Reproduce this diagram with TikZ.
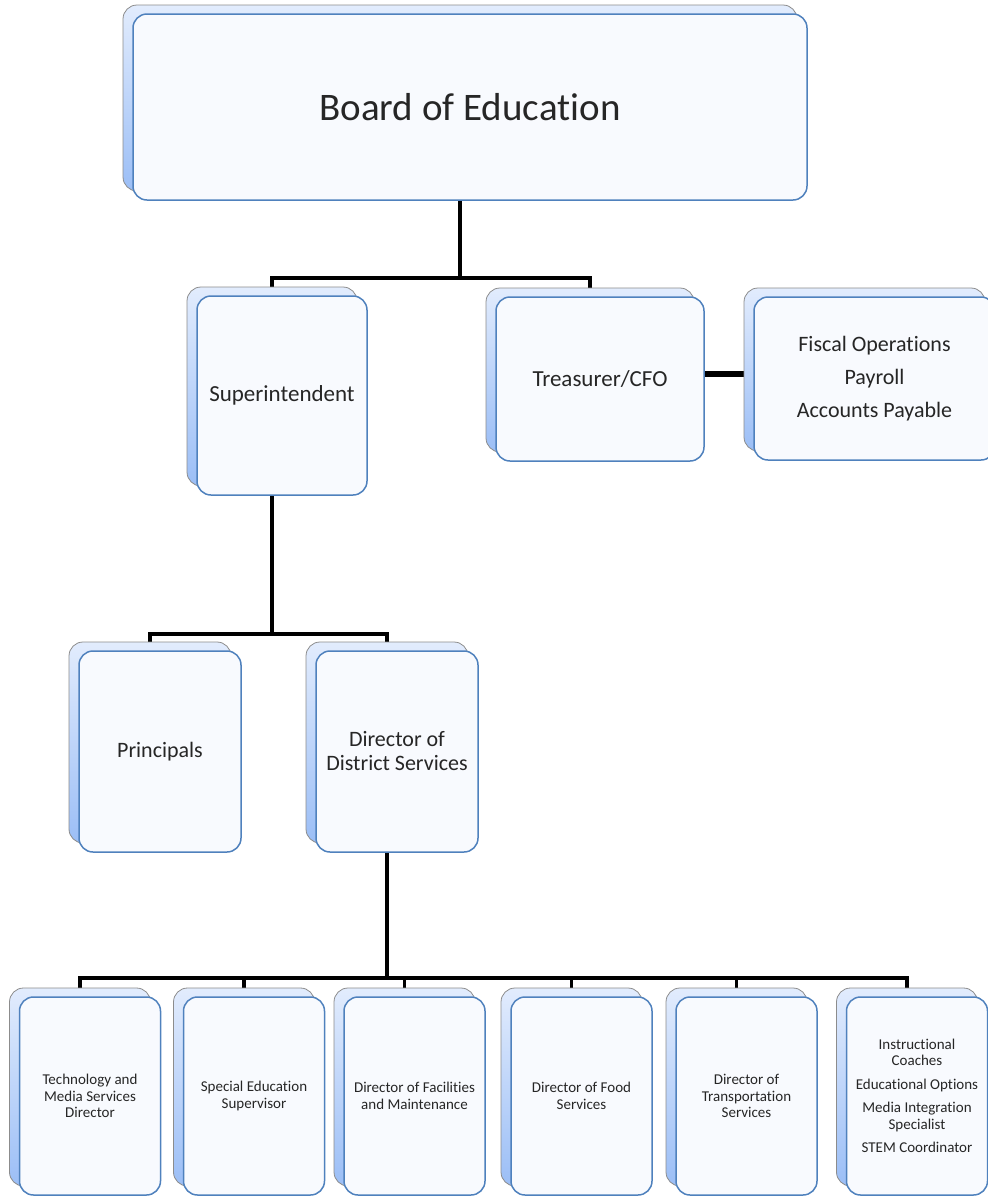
\documentclass[tikz,border=0pt]{standalone}
\usepackage{fontspec}
\setmainfont{Carlito}[Ligatures={NoCommon}]
\usepackage{tikz}
\usepackage{xcolor}
\usetikzlibrary{shadows, backgrounds}

\definecolor{cardline}{RGB}{79,129,189}
\definecolor{cardfill}{RGB}{248,250,254}
\definecolor{backline}{RGB}{140,140,140}
\definecolor{backtop}{RGB}{226,236,253}
\definecolor{backbot}{RGB}{155,190,246}

\begin{document}
\begin{tikzpicture}[x=1pt, y=-1pt,
    card/.style={draw=cardline, line width=1.5pt, fill=cardfill, rounded corners=14pt,
        align=center, inner sep=2pt, text=black!85,
        copy shadow={shadow xshift=-10pt, shadow yshift=9pt, draw=backline,
            line width=0.8pt, top color=backtop, bottom color=backbot}},
    midtext/.style={font=\fontsize{22}{24}\selectfont},
    smalltext/.style={font=\fontsize{15}{16.5}\selectfont},
    unit/.style={card, smalltext, minimum width=141, minimum height=198},
    link/.style={line width=3.5pt, black}]
        \path[use as bounding box] (0,0) rectangle (988,1197);

        \node[card, minimum width=674, minimum height=186, font=\fontsize{39}{44}\selectfont] at (470, 107) (board) {Board of Education};

        \node[card, midtext, minimum width=170, minimum height=199, font=\fontsize{23}{25}\selectfont] at (282, 395.5) (super) {Superintendent};
        \node[card, midtext, minimum width=208, minimum height=164, font=\fontsize{23}{25}\selectfont] at (600, 379) (treas) {Treasurer/CFO};
        \node[card, midtext, minimum width=241, minimum height=163] at (874.5, 378.5) (fiscal) {Fiscal Operations\\[9pt]Payroll\\[9pt]Accounts Payable};

        \node[card, midtext, minimum width=162, minimum height=201] at (160, 751.5) (princ) {Principals};
        \node[card, midtext, minimum width=162, minimum height=201] at (397, 751.5) (dds) {Director of\\District Services};

        \node[unit] at (90, 1096) (tech) {Technology and\\Media Services\\Director};
        \node[unit] at (254, 1096) (sped) {Special Education\\Supervisor};
        \node[unit] at (414.5, 1096) (facil) {Director of Facilities\\and Maintenance};
        \node[unit] at (581.5, 1096) (food) {Director of Food\\Services};
        \node[unit] at (746.5, 1096) (transp) {Director of\\Transportation\\Services};
        \node[unit] at (917, 1096) (instr) {Instructional\\Coaches\\[7pt]Educational Options\\[7pt]Media Integration\\Specialist\\[7pt]STEM Coordinator};

        % connectors run behind the cards
        \begin{scope}[on background layer]
            \draw[link] ([xshift=-10pt]board.south) -- +(0, 77) coordinate (j1);
            \draw[link] ([xshift=-10pt]super.north) |- (j1) -| ([xshift=-10pt]treas.north);
            \draw[link, line width=6pt] ([yshift=5pt]treas.east) -- ([yshift=5pt]treas.east -| fiscal.west);

            \draw[link] ([xshift=-10pt]super.south) -- +(0, 138) coordinate (j2);
            \draw[link] ([xshift=-10pt]princ.north) |- (j2) -| ([xshift=-10pt]dds.north);

            \draw[link] ([xshift=-10pt]dds.south) -- +(0, 125) coordinate (j3);
            \draw[link] ([xshift=-10pt]tech.north) |- (j3) -| ([xshift=-10pt]instr.north);
            \foreach \n in {sped, facil, food, transp}
                \draw[link] ([xshift=-10pt]\n.north) -- ([xshift=-10pt]\n.north |- j3);
        \end{scope}
    \end{tikzpicture}
\end{document}
